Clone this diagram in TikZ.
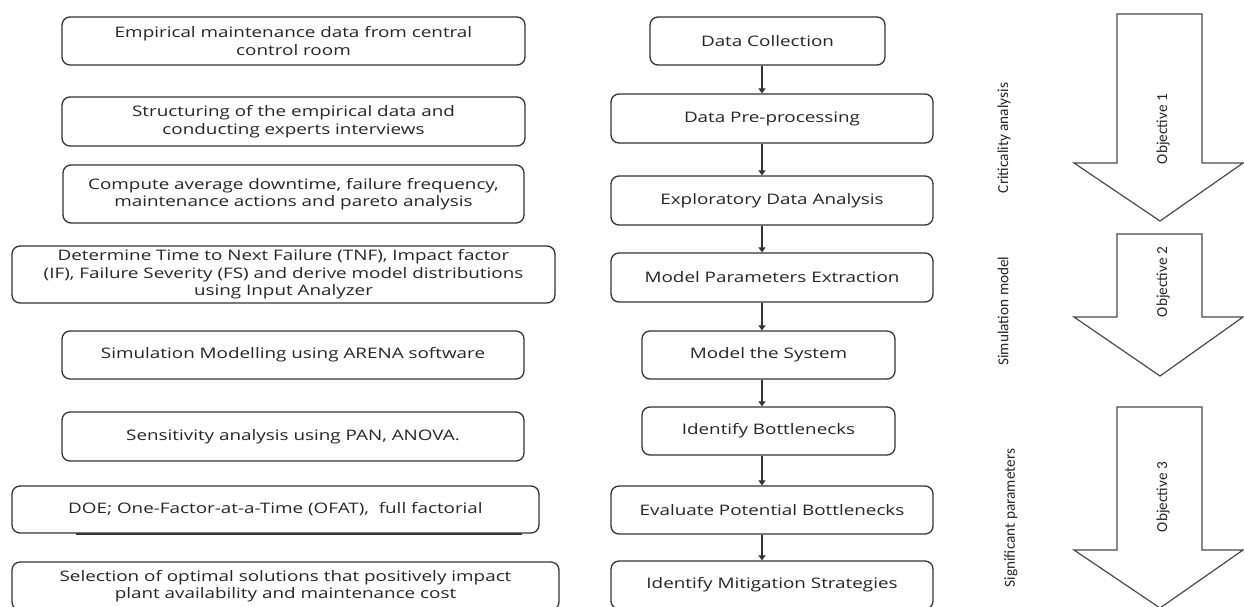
\documentclass[tikz,border=0pt]{standalone}
\usepackage{fontspec}
\setmainfont{Open Sans}[FakeStretch=1.3]
\newfontfamily\calfont{Carlito}
\usetikzlibrary{arrows.meta}
\definecolor{linec}{HTML}{333333}
\definecolor{textc}{HTML}{262626}
\definecolor{bigc}{HTML}{4A4A4A}
\tikzset{
  box/.style={draw=linec, line width=1.3pt, rounded corners=8pt, inner sep=0pt,
    align=center, text=textc, font=\fontsize{14.5}{17.5}\selectfont},
  flowarr/.style={draw=linec, line width=1.3pt, -{Triangle[length=5pt,width=7pt]}},
  bigarrow/.style={draw=bigc, line width=1.2pt, fill=white, line join=miter},
  objlabel/.style={rotate=90, text=textc, font=\calfont\fontsize{15.3}{18}\selectfont, inner sep=0pt},
}
\begin{document}
\begin{tikzpicture}[x=1pt,y=-1pt]
\useasboundingbox (0,0) rectangle (1244,606);
\clip (0,0) rectangle (1244,606);
\fill[white] (0,0) rectangle (1244,606);

% left column
\node[box, minimum width=463pt, minimum height=48pt] (L1) at (293.5,41) {Empirical maintenance data from central\\control room};
\node[box, minimum width=463pt, minimum height=49pt] (L2) at (293.5,121.5) {Structuring of the empirical data and\\conducting experts interviews};
\node[box, minimum width=461pt, minimum height=58pt] (L3) at (293.5,194) {Compute average downtime, failure frequency,\\maintenance actions and pareto analysis};
\node[box, minimum width=543pt, minimum height=57pt] (L4) at (283.5,274.5) {Determine Time to Next Failure (TNF), Impact factor\\(IF), Failure Severity (FS) and derive model distributions\\using Input Analyzer};
\node[box, minimum width=462pt, minimum height=48pt] (L5) at (293,355) {Simulation Modelling using ARENA software};
\node[box, minimum width=462pt, minimum height=49pt] (L6) at (293,436.5) {Sensitivity analysis using PAN, ANOVA.};
\draw[draw=linec, line width=1.3pt] (76,533.9) -- (522,533.9);
\node[box, fill=white, minimum width=527pt, minimum height=47pt] (L7) at (275.5,509.5) {DOE; One-Factor-at-a-Time (OFAT), \ full factorial};
\node[box, minimum width=547pt, minimum height=48pt] (L8) at (285.5,586) {Selection of optimal solutions that positively impact\\plant availability and maintenance cost};

% middle column
\node[box, minimum width=235pt, minimum height=48pt] (M1) at (767.5,41) {Data Collection};
\node[box, minimum width=322pt, minimum height=49pt] (M2) at (772,118.5) {Data Pre-processing};
\node[box, minimum width=322pt, minimum height=49pt] (M3) at (772,200.5) {Exploratory Data Analysis};
\node[box, minimum width=322pt, minimum height=49pt] (M4) at (772,277.5) {Model Parameters Extraction};
\node[box, minimum width=253pt, minimum height=48pt] (M5) at (768.5,355) {Model the System};
\node[box, minimum width=253pt, minimum height=48pt] (M6) at (768.5,431) {Identify Bottlenecks};
\node[box, minimum width=322pt, minimum height=48pt] (M7) at (772,510) {Evaluate Potential Bottlenecks};
\node[box, minimum width=322pt, minimum height=48pt] (M8) at (772,585) {Identify Mitigation Strategies};

\coordinate (xa) at (762,0);
\draw[flowarr] (M1.south -| xa) -- (M2.north -| xa);
\draw[flowarr] (M2.south -| xa) -- (M3.north -| xa);
\draw[flowarr] (M3.south -| xa) -- (M4.north -| xa);
\draw[flowarr] (M4.south -| xa) -- (M5.north -| xa);
\draw[flowarr] (M5.south -| xa) -- (M6.north -| xa);
\draw[flowarr] (M6.south -| xa) -- (M7.north -| xa);
\draw[flowarr] (M7.south -| xa) -- (M8.north -| xa);

% big arrows
\draw[bigarrow] (1117,14) -- (1202,14) -- (1202,163) -- (1243,163) -- (1160,221) -- (1074,163) -- (1117,163) -- cycle;
\draw[bigarrow] (1117,234) -- (1202,234) -- (1202,317) -- (1243,317) -- (1160,376) -- (1074,317) -- (1117,317) -- cycle;
\draw[bigarrow] (1117,407) -- (1202,407) -- (1202,550) -- (1243,550) -- (1160,608) -- (1074,550) -- (1117,550) -- cycle;

\node[objlabel] (O1) at (1163,129) {Objective 1};
\node[objlabel] (O2) at (1163,282) {Objective 2};
\node[objlabel] (O3) at (1163,497) {Objective 3};

\node[objlabel] (C1) at (1004,138) {Criticality analysis};
\node[objlabel] (C2) at (1003,311) {Simulation model};
\node[objlabel] (C3) at (1011,518) {Significant parameters};
\end{tikzpicture}
\end{document}
